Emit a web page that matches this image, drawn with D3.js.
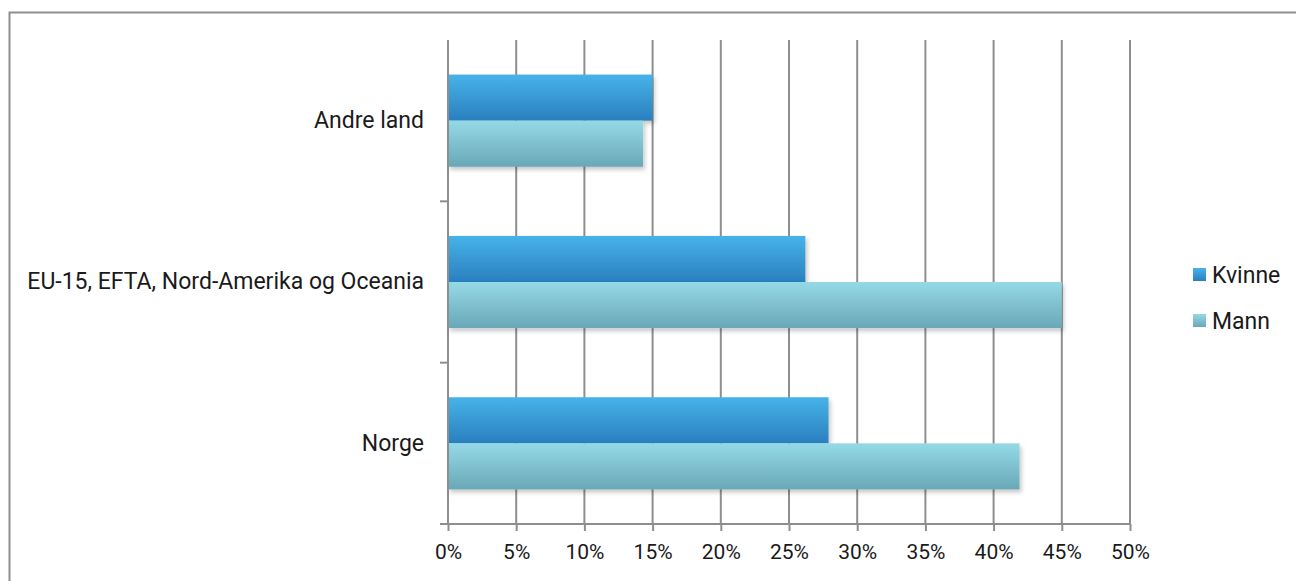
<!DOCTYPE html>
<html><head><meta charset="utf-8">
<script src="https://cdn.jsdelivr.net/npm/d3@7"></script>
<style>body{margin:0;background:#fff}svg{display:block}text{font-family:Roboto,"DejaVu Sans",sans-serif;fill:#1a1a1a}</style>
</head><body><svg id="c" width="1296" height="581"></svg>
<script>
const categories = ["Andre land", "EU-15, EFTA, Nord-Amerika og Oceania", "Norge"];
const seriesNames = ["Kvinne", "Mann"];
const kvinne = [15.0, 26.2, 27.9];
const mann = [14.3, 45.0, 41.9];
const xTicks = [0,5,10,15,20,25,30,35,40,45,50];

const svg = d3.select("#c");
const defs = svg.append("defs");
const grads = [["gK","#47b3e8","#2a7fbf"],["gM","#95d9e7","#69a8b6"]];
grads.forEach(([id,a,b])=>{
  const g = defs.append("linearGradient").attr("id",id).attr("x1",0).attr("y1",0).attr("x2",0).attr("y2",1);
  g.append("stop").attr("offset","0%").attr("stop-color",a);
  g.append("stop").attr("offset","100%").attr("stop-color",b);
});
const f = defs.append("filter").attr("id","sh").attr("x","-5%").attr("y","-20%").attr("width","110%").attr("height","150%");
f.append("feDropShadow").attr("dx",2).attr("dy",3).attr("stdDeviation",2).attr("flood-color","#000").attr("flood-opacity",0.22);

svg.append("rect").attr("x",9.5).attr("y",12.5).attr("width",1400).attr("height",700)
  .attr("fill","none").attr("stroke","#8e8e8e").attr("stroke-width",2);

const x = d3.scaleLinear().domain([0,50]).range([448,1130]);
const y = d3.scaleBand().domain(categories).range([40,524]).paddingInner(0).paddingOuter(0);
const inner = d3.scaleBand().domain(seriesNames).range([0,y.bandwidth()]).paddingInner(0).paddingOuter(0.75);

// gridlines
svg.append("g").selectAll("line").data(xTicks.slice(1)).join("line")
  .attr("x1",d=>x(d)).attr("x2",d=>x(d)).attr("y1",40).attr("y2",524)
  .attr("stroke","#8e8e8e").attr("stroke-width",2);

// bars
const data = [];
categories.forEach((c,i)=>{
  data.push({c, s:"Kvinne", v:kvinne[i]});
  data.push({c, s:"Mann", v:mann[i]});
});
svg.append("g").selectAll("rect").data(data).join("rect")
  .attr("x",x(0)).attr("y",d=>y(d.c)+inner(d.s)).attr("width",d=>x(d.v)-x(0)).attr("height",inner.bandwidth())
  .attr("fill",d=>d.s==="Kvinne"?"url(#gK)":"url(#gM)").attr("filter","url(#sh)");

// x axis
const xa = svg.append("g").attr("transform","translate(0,524)")
  .call(d3.axisBottom(x).tickValues(xTicks).tickFormat(d=>d+"%").tickSize(7).tickPadding(13));
xa.select(".domain").attr("stroke","#8e8e8e").attr("stroke-width",2).attr("d","M440,0H1130");
xa.selectAll(".tick line").attr("stroke","#8e8e8e").attr("stroke-width",2);
xa.selectAll("text").attr("font-size",21).attr("fill","#1a1a1a").attr("font-family","Roboto, sans-serif");

// y axis
const ya = svg.append("g").attr("transform","translate(448,0)")
  .call(d3.axisLeft(y).tickSize(0).tickPadding(24));
ya.select(".domain").attr("stroke","#8e8e8e").attr("stroke-width",2).attr("d","M0,40V524");
ya.selectAll("text").attr("font-size",23).attr("fill","#1a1a1a").attr("font-family","Roboto, sans-serif");
svg.append("g").selectAll("line").data([1,2]).join("line")
  .attr("x1",440).attr("x2",448).attr("y1",d=>y(categories[d])).attr("y2",d=>y(categories[d]))
  .attr("stroke","#8e8e8e").attr("stroke-width",2);

// legend
const lg = svg.append("g").selectAll("g").data(seriesNames).join("g")
  .attr("transform",(d,i)=>`translate(1193,${268+i*46})`);
lg.append("rect").attr("width",13).attr("height",13).attr("fill",(d,i)=>i===0?"url(#gK)":"url(#gM)");
lg.append("text").attr("x",19).attr("y",7).attr("dy","0.35em").attr("font-size",23).text(d=>d);
</script></body></html>
